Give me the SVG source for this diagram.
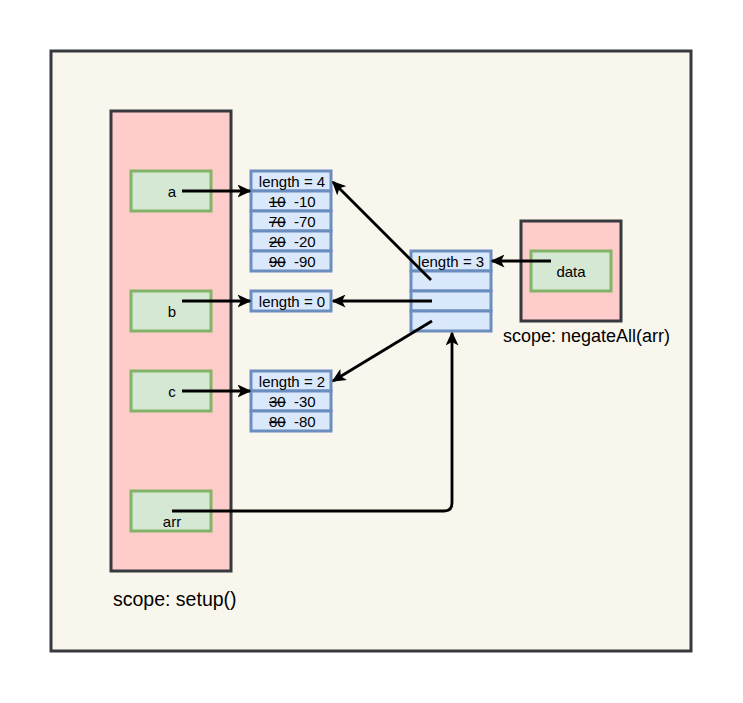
<svg xmlns="http://www.w3.org/2000/svg" width="743" height="703" viewBox="0 0 743 703">
<style>
.frame{fill:#f9f7ed;stroke:#36393d;stroke-width:3}
.scope{fill:#ffcccc;stroke:#36393d;stroke-width:3}
.var{fill:#d5e8d4;stroke:#82b366;stroke-width:3}
.cell{fill:#dae8fc;stroke:#6c8ebf;stroke-width:3}
text{font-family:"Liberation Sans",Arial,Helvetica,sans-serif;fill:#000}
.t{font-size:15px}
.c{text-anchor:middle}
.s{font-size:18px}
.st{text-decoration:line-through}
.conn{fill:none;stroke:#000;stroke-width:2.8}
</style>
<defs>
<marker id="ah" viewBox="0 0 14 13" markerWidth="14" markerHeight="13" refX="12.5" refY="6.5" orient="auto" markerUnits="userSpaceOnUse">
<path d="M0,0 L14,6.5 L0,13 L3.5,6.5 Z" fill="#000"/>
</marker>
</defs>
<rect width="743" height="703" fill="#ffffff"/>
<g id="frame"><rect class="frame" x="51" y="51" width="640" height="600"/></g>
<g id="scope-setup">
<rect class="scope" x="111" y="111" width="120" height="460"/>
<text class="s" x="113" y="606" style="font-size:19.5px">scope: setup()</text>
</g>
<g id="var-a"><rect class="var" x="131" y="171" width="80" height="40"/><text class="t c" x="172" y="197">a</text></g>
<g id="var-b"><rect class="var" x="131" y="291" width="80" height="40"/><text class="t c" x="172" y="317">b</text></g>
<g id="var-c"><rect class="var" x="131" y="371" width="80" height="40"/><text class="t c" x="172" y="397">c</text></g>
<g id="var-arr"><rect class="var" x="131" y="491" width="80" height="40"/><text class="t c" x="172" y="527">arr</text></g>
<g id="arr4">
<rect class="cell" x="251" y="171" width="80" height="20"/>
<rect class="cell" x="251" y="191" width="80" height="20"/>
<rect class="cell" x="251" y="211" width="80" height="20"/>
<rect class="cell" x="251" y="231" width="80" height="20"/>
<rect class="cell" x="251" y="251" width="80" height="20"/>
<text class="t c" x="292" y="187">length = 4</text>
<text class="t" x="269" y="207"><tspan class="st">10</tspan></text><text class="t" x="294" y="207">-10</text>
<text class="t" x="269" y="227"><tspan class="st">70</tspan></text><text class="t" x="294" y="227">-70</text>
<text class="t" x="269" y="247"><tspan class="st">20</tspan></text><text class="t" x="294" y="247">-20</text>
<text class="t" x="269" y="267"><tspan class="st">90</tspan></text><text class="t" x="294" y="267">-90</text>
</g>
<g id="arr0">
<rect class="cell" x="251" y="291" width="80" height="20"/>
<text class="t c" x="292" y="307">length = 0</text>
</g>
<g id="arr2">
<rect class="cell" x="251" y="371" width="80" height="20"/>
<rect class="cell" x="251" y="391" width="80" height="20"/>
<rect class="cell" x="251" y="411" width="80" height="20"/>
<text class="t c" x="292" y="387">length = 2</text>
<text class="t" x="269" y="407"><tspan class="st">30</tspan></text><text class="t" x="294" y="407">-30</text>
<text class="t" x="269" y="427"><tspan class="st">80</tspan></text><text class="t" x="294" y="427">-80</text>
</g>
<g id="arr3">
<rect class="cell" x="411" y="251" width="80" height="20"/>
<rect class="cell" x="411" y="271" width="80" height="20"/>
<rect class="cell" x="411" y="291" width="80" height="20"/>
<rect class="cell" x="411" y="311" width="80" height="20"/>
<text class="t c" x="451" y="267">length = 3</text>
</g>
<g id="scope-negateAll">
<rect class="scope" x="521" y="221" width="100" height="100"/>
<text class="s" x="503" y="342">scope: negateAll(arr)</text>
</g>
<g id="var-data"><rect class="var" x="531" y="251" width="80" height="40"/><text class="t c" x="571" y="277">data</text></g>
<g id="connectors">
<line class="conn" x1="182" y1="191" x2="250" y2="191" marker-end="url(#ah)"/>
<line class="conn" x1="182" y1="301" x2="250" y2="301" marker-end="url(#ah)"/>
<line class="conn" x1="182" y1="391" x2="250" y2="391" marker-end="url(#ah)"/>
<path class="conn" d="M172,511 H444 Q452,511 452,503 V333" marker-end="url(#ah)"/>
<line class="conn" x1="431" y1="280" x2="333" y2="182" marker-end="url(#ah)"/>
<line class="conn" x1="432" y1="301" x2="333" y2="301" marker-end="url(#ah)"/>
<line class="conn" x1="432" y1="321" x2="333" y2="381" marker-end="url(#ah)"/>
<line class="conn" x1="551" y1="261" x2="492" y2="261" marker-end="url(#ah)"/>
</g>
</svg>
